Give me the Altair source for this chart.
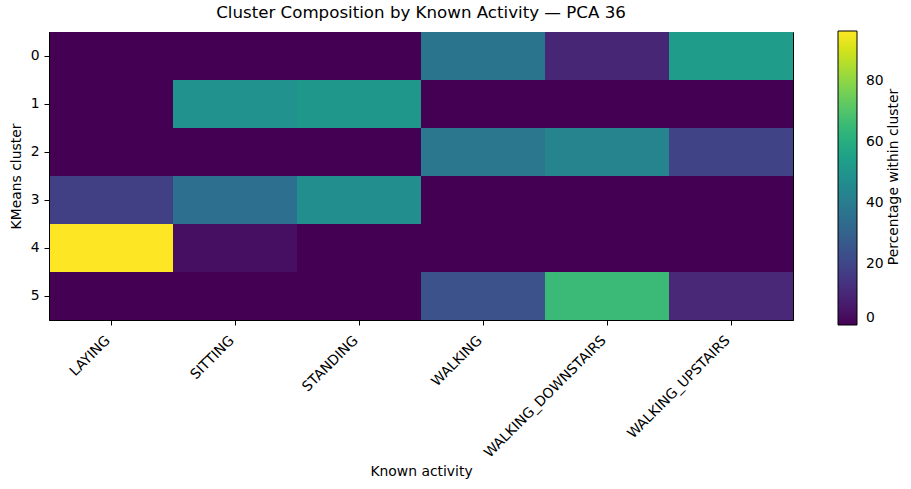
import altair as alt
import pandas as pd

activities = ["LAYING", "SITTING", "STANDING", "WALKING", "WALKING_DOWNSTAIRS", "WALKING_UPSTAIRS"]
clusters = [0, 1, 2, 3, 4, 5]
row0 = [0.0, 0.0, 0.0, 37.0, 10.0, 53.0]
row1 = [0.0, 48.5, 51.5, 0.0, 0.0, 0.0]
row2 = [0.0, 0.0, 0.0, 38.0, 43.0, 19.0]
row3 = [18.0, 35.0, 47.0, 0.0, 0.0, 0.0]
row4 = [96.4, 3.6, 0.0, 0.0, 0.0, 0.0]
row5 = [0.0, 0.0, 0.0, 24.0, 65.5, 10.5]
rows = [row0, row1, row2, row3, row4, row5]
cbar_title = ["Percentage within cluster"]

records = []
for c, r in zip(clusters, rows):
    for a, v in zip(activities, r):
        records.append({"cluster": c, "activity": a, "pct": v})
df = pd.DataFrame(records)
vmax = max(max(r) for r in rows)

FONT = "DejaVu Sans"
FS = 13.9

heat = alt.Chart(df).mark_rect().encode(
    x=alt.X("activity:N", sort=activities, title="Known activity",
            scale=alt.Scale(paddingInner=0, paddingOuter=0),
            axis=alt.Axis(labelAngle=-45, labelAlign="right", labelBaseline="top",
                          labelPadding=8, labelOffset=-8, titlePadding=5)),
    y=alt.Y("cluster:O", sort=clusters, title="KMeans cluster",
            scale=alt.Scale(paddingInner=0, paddingOuter=0),
            axis=alt.Axis(labelAngle=0, labelPadding=5, titlePadding=7)),
    color=alt.Color("pct:Q", title=None,
                    scale=alt.Scale(scheme="viridis", domain=[0, vmax]),
                    legend=alt.Legend(orient="none", legendX=789, legendY=-1,
                                      direction="vertical", gradientLength=294,
                                      gradientThickness=19, values=[0, 20, 40, 60, 80],
                                      gradientStrokeColor="black", gradientStrokeWidth=1,
                                      labelFontSize=FS, labelFont=FONT,
                                      labelOffset=9, labelColor="black")),
)

cb_title = alt.Chart(pd.DataFrame({"t": cbar_title})).mark_text(
    angle=270, font=FONT, fontSize=FS, color="black", align="center", baseline="middle"
).encode(
    x=alt.value(845), y=alt.value(145), text="t:N"
)

chart = alt.layer(heat, cb_title).properties(
    width=744, height=288,
    title=alt.TitleParams("Cluster Composition by Known Activity \u2014 PCA 36",
                          fontSize=16.67, font=FONT, fontWeight="normal", offset=9,
                          anchor="middle", color="black"),
    autosize=alt.AutoSizeParams(type="none"),
    padding={"left": 49, "top": 32, "right": 118, "bottom": 169},
).configure_view(
    stroke="black", strokeWidth=1
).configure_axis(
    labelFont=FONT, titleFont=FONT, labelFontSize=FS, titleFontSize=FS,
    titleFontWeight="normal", labelColor="black", titleColor="black",
    tickColor="black", domainColor="black", tickSize=5, grid=False
)

chart.save("out.html", embed_options={"renderer": "svg", "actions": False})
